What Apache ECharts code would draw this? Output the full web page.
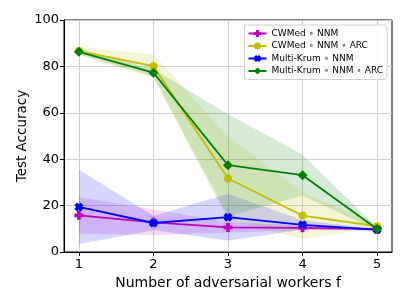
<!DOCTYPE html>
<html><head><meta charset="utf-8">
<script src="https://cdn.jsdelivr.net/npm/echarts@6/dist/echarts.min.js"></script>
<style>html,body{margin:0;padding:0;background:#fff}#c{width:407px;height:305px}</style>
</head><body><div id="c"></div>
<script>
const xs = [1, 2, 3, 4, 5];
const xTicks = [1, 2, 3, 4, 5];
const names = ['CWMed \u2218 NNM', 'CWMed \u2218 NNM \u2218 ARC', 'Multi-Krum \u2218 NNM', 'Multi-Krum \u2218 NNM \u2218 ARC'];
const cwmedMean = [15.8, 12.8, 10.6, 10.4, 9.9];
const cwmedStd = [7.8, 5.5, 2.2, 0.9, 0.3];
const cwmedArcMean = [86.6, 80.1, 31.7, 15.7, 11.1];
const cwmedArcStd = [1.7, 5.0, 18.0, 10.0, 0.8];
const krumMean = [19.4, 12.5, 15.0, 11.7, 9.6];
const krumStd = [16.0, 3.0, 10.0, 2.0, 0.3];
const krumArcMean = [86.3, 77.3, 37.4, 33.1, 9.9];
const krumArcStd = [1.1, 1.5, 22.0, 8.8, 0.5];

const colors = ['#bf00bf', '#bfbf00', '#0000ff', '#008000'];
const symbols = [
  'path://M3,0H7V3H10V7H7V10H3V7H0V3H3Z',
  'circle',
  'path://M0,3L3,0L5,2L7,0L10,3L8,5L10,7L7,10L5,8L3,10L0,7L2,5Z',
  'diamond'
];
const symSizes = [9, 8, 9, 10];
const means = [cwmedMean, cwmedArcMean, krumMean, krumArcMean];
const stds = [cwmedStd, cwmedArcStd, krumStd, krumArcStd];

const series = [];
// shaded mean ± std bands, drawn through the axes' scales
means.forEach((m, i) => {
  const s = stds[i];
  series.push({
    type: 'custom', silent: true, z: 1,
    data: [0],
    encode: { x: [], y: [] },
    renderItem: function (params, api) {
      const upper = xs.map((x, k) => api.coord([x, m[k] + s[k]]));
      const lower = xs.map((x, k) => api.coord([x, m[k] - s[k]])).reverse();
      return {
        type: 'polygon',
        shape: { points: upper.concat(lower) },
        style: { fill: colors[i], opacity: 0.16, stroke: colors[i], lineWidth: 0.5, strokeOpacity: 0.3 }
      };
    }
  });
});
means.forEach((m, i) => {
  series.push({
    name: names[i], type: 'line', z: 5 + i,
    symbol: symbols[i], symbolSize: symSizes[i],
    itemStyle: { color: colors[i] },
    lineStyle: { color: colors[i], width: 1.8 },
    data: xs.map((x, k) => [x, m[k]])
  });
});

const chart = echarts.init(document.getElementById('c'), null, { renderer: 'canvas' });
chart.setOption({
  animation: false,
  textStyle: { fontFamily: 'DejaVu Sans' },
  grid: { left: 64, right: 15, top: 20, bottom: 53, show: true, borderColor: '#000', borderWidth: 1, backgroundColor: 'transparent' },
  legend: {
    data: names, orient: 'vertical', right: 20, top: 25,
    itemWidth: 18, itemHeight: 9, itemGap: 3.5,
    padding: [4, 4, 4, 3],
    borderColor: '#d0d0d0', borderWidth: 1, borderRadius: 3, backgroundColor: 'rgba(255,255,255,0.85)',
    textStyle: { fontSize: 9, color: '#000', fontFamily: 'DejaVu Sans' }
  },
  xAxis: {
    type: 'value', min: 0.8, max: 5.2,
    name: 'Number of adversarial workers f', nameLocation: 'middle', nameGap: 24, nameMoveOverlap: false,
    nameTextStyle: { fontSize: 14, color: '#000' },
    axisLine: { show: true, onZero: false, lineStyle: { color: '#000' } },
    axisTick: { show: true, customValues: xTicks, length: 4, lineStyle: { color: '#000' } },
    axisLabel: { customValues: xTicks, fontSize: 13, color: '#000', margin: 6 },
    splitLine: { show: true, lineStyle: { color: '#d0d0d0', width: 1 } }
  },
  yAxis: {
    type: 'value', min: 0, max: 100, interval: 20,
    name: 'Test Accuracy', nameLocation: 'middle', nameGap: 35, nameMoveOverlap: false,
    nameTextStyle: { fontSize: 13.5, color: '#000' },
    axisLine: { show: true, lineStyle: { color: '#000' } },
    axisTick: { show: true, length: 4, lineStyle: { color: '#000' } },
    axisLabel: { fontSize: 13, color: '#000', margin: 5 },
    splitLine: { show: true, lineStyle: { color: '#d0d0d0', width: 1 } }
  },
  series: series
});
</script></body></html>
